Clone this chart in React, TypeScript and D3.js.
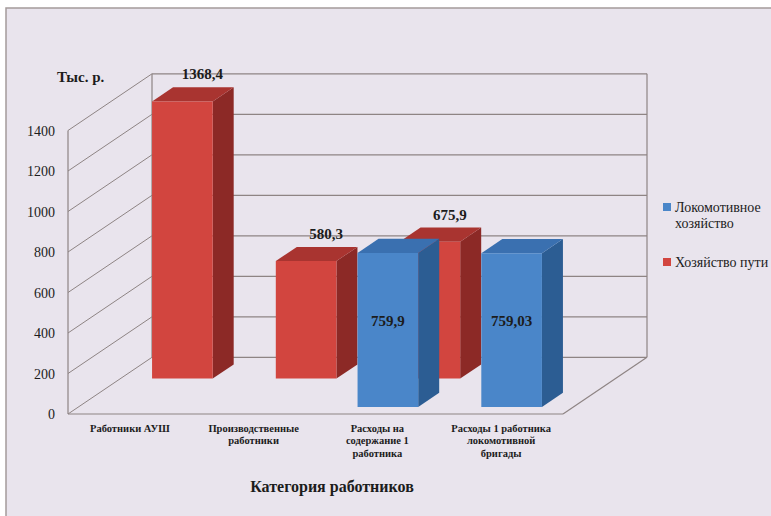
import React from "react";
import * as d3 from "d3";

const categories = [
  "Работники АУШ",
  "Производственные работники",
  "Расходы на содержание 1 работника",
  "Расходы 1 работника локомотивной бригады",
];
const categoryLines = [
  ["Работники АУШ"],
  ["Производственные", "работники"],
  ["Расходы на", "содержание 1", "работника"],
  ["Расходы 1 работника", "локомотивной", "бригады"],
];
const seriesNames = ["Локомотивное хозяйство", "Хозяйство пути"];
const locoValues: (number | null)[] = [null, null, 759.9, 759.03];
const trackValues: (number | null)[] = [1368.4, 580.3, 675.9, null];
const locoLabels = ["", "", "759,9", "759,03"];
const trackLabels = ["1368,4", "580,3", "675,9", ""];
const yTicks = [0, 200, 400, 600, 800, 1000, 1200, 1400];

const W = 771;
const H = 516;
const FRONT_L = 68;
const FRONT_R = 563;
const FLOOR_Y = 414;
const TOP_Y = 130.5;
const DX = 84;
const DY = -56.7;

const colors = [
  { front: "#4a86c9", top: "#3a70b0", side: "#2c5d93" },
  { front: "#d2453f", top: "#a93430", side: "#8c2926" },
];

const SERIF = "Liberation Serif";

export default function App() {
  const x = d3.scaleBand<string>().domain(categories).range([FRONT_L, FRONT_R]).paddingInner(0).paddingOuter(0);
  const y = d3.scaleLinear().domain([0, 1400]).range([FLOOR_Y, TOP_Y]);
  const depth = d3.scaleLinear().domain([0, 1]).range([0, 1]);
  const proj = (px: number, v: number, d: number): [number, number] => [px + depth(d) * DX, y(v) + depth(d) * DY];
  const line = d3.line();
  const poly = (pts: [number, number][]) => line([...pts, pts[0]]) as string;

  const bw = x.bandwidth();
  const barW = bw * 0.49;

  const rows = [
    { values: locoValues, labels: locoLabels, c: colors[0], d0: 0.125 },
    { values: trackValues, labels: trackLabels, c: colors[1], d0: 0.625 },
  ];
  const barDepth = 0.25;

  const gridColor = "#8e8484";
  const textColor = "#1c1c1c";

  const drawOrder = [1, 0];

  return (
    <svg width={W} height={H} fontFamily={SERIF} style={{ position: "absolute", left: 0, top: 0 }}>
      <rect x={0} y={0} width={W} height={H} fill="#ffffff" />
      <rect x={6} y={8} width={W + 10} height={H + 10} fill="#e9e4ed" stroke="#a49a9a" strokeWidth={1.5} />

      {yTicks.map((t) => {
        const a = proj(FRONT_L, t, 1);
        const b = proj(FRONT_R, t, 1);
        return <line key={"bg" + t} x1={a[0]} y1={a[1]} x2={b[0]} y2={b[1]} stroke={gridColor} strokeWidth={1.2} />;
      })}
      {yTicks.map((t) => {
        const a = proj(FRONT_L, t, 0);
        const b = proj(FRONT_L, t, 1);
        return <line key={"lg" + t} x1={a[0]} y1={a[1]} x2={b[0]} y2={b[1]} stroke={gridColor} strokeWidth={1} />;
      })}
      {(() => {
        const a0 = proj(FRONT_L, 0, 0), a1 = proj(FRONT_L, 1400, 0);
        const b0 = proj(FRONT_L, 0, 1), b1 = proj(FRONT_L, 1400, 1);
        const c0 = proj(FRONT_R, 0, 1), c1 = proj(FRONT_R, 1400, 1);
        const f0 = proj(FRONT_R, 0, 0);
        return (
          <g stroke={gridColor} strokeWidth={1.2}>
            <line x1={a0[0]} y1={a0[1]} x2={a1[0]} y2={a1[1]} />
            <line x1={b0[0]} y1={b0[1]} x2={b1[0]} y2={b1[1]} />
            <line x1={c0[0]} y1={c0[1]} x2={c1[0]} y2={c1[1]} />
            <line x1={a0[0]} y1={a0[1]} x2={f0[0]} y2={f0[1]} />
            <line x1={f0[0]} y1={f0[1]} x2={c0[0]} y2={c0[1]} />
          </g>
        );
      })()}

      {drawOrder.map((ri) => {
        const r = rows[ri];
        return (
          <g key={"row" + ri}>
            {categories.map((cat, i) => {
              const v = r.values[i];
              if (v == null) return null;
              const xl = (x(cat) as number) + (bw - barW) / 2;
              const xr = xl + barW;
              const d0 = r.d0, d1 = r.d0 + barDepth;
              const front: [number, number][] = [proj(xl, 0, d0), proj(xr, 0, d0), proj(xr, v, d0), proj(xl, v, d0)];
              const top: [number, number][] = [proj(xl, v, d0), proj(xr, v, d0), proj(xr, v, d1), proj(xl, v, d1)];
              const side: [number, number][] = [proj(xr, 0, d0), proj(xr, 0, d1), proj(xr, v, d1), proj(xr, v, d0)];
              return (
                <g key={cat}>
                  <path d={poly(side)} fill={r.c.side} />
                  <path d={poly(top)} fill={r.c.top} />
                  <path d={poly(front)} fill={r.c.front} />
                </g>
              );
            })}
          </g>
        );
      })}

      {rows.map((r, ri) =>
        categories.map((cat, i) => {
          const v = r.values[i];
          if (v == null) return null;
          const xc = (x(cat) as number) + bw / 2;
          const d0 = r.d0, d1 = r.d0 + barDepth;
          if (ri === 1) {
            const tb = proj(xc, v, d1);
            return (
              <text key={"lab" + ri + i} fontFamily={SERIF} x={tb[0] - 1} y={tb[1] - 8} textAnchor="middle" fontSize={15} fontWeight="bold" fill={textColor}>
                {r.labels[i]}
              </text>
            );
          }
          const fb = proj(xc, 0, d0);
          const tb = proj(xc, v, d1);
          return (
            <text key={"lab" + ri + i} fontFamily={SERIF} x={fb[0]} y={(fb[1] + tb[1]) / 2 + 3} textAnchor="middle" fontSize={15} fontWeight="bold" fill={textColor}>
              {r.labels[i]}
            </text>
          );
        })
      )}

      {yTicks.map((t) => (
        <text key={"yt" + t} fontFamily={SERIF} x={55} y={y(t) + 5} textAnchor="end" fontSize={14} fill={textColor}>
          {t}
        </text>
      ))}
      <text fontFamily={SERIF} x={57} y={82} fontSize={15} fontWeight="bold" fill={textColor}>Тыс. р.</text>

      {categories.map((cat, i) => (
        <text key={"cl" + i} fontFamily={SERIF} x={(x(cat) as number) + bw / 2} y={432} textAnchor="middle" fontSize={10.5} fontWeight="bold" fill={textColor}>
          {categoryLines[i].map((ln, j) => (
            <tspan key={j} x={(x(cat) as number) + bw / 2} dy={j === 0 ? 0 : 12.3}>{ln}</tspan>
          ))}
        </text>
      ))}
      <text fontFamily={SERIF} x={332} y={492} textAnchor="middle" fontSize={16} fontWeight="bold" fill={textColor}>Категория работников</text>

      <rect x={663} y={203} width={8} height={8} fill={colors[0].front} />
      <text fontFamily={SERIF} x={675} y={212} fontSize={14} fill={textColor}>
        <tspan x={675}>Локомотивное</tspan>
        <tspan x={675} dy={16}>хозяйство</tspan>
      </text>
      <rect x={663} y={258} width={8} height={8} fill={colors[1].front} />
      <text fontFamily={SERIF} x={675} y={267} fontSize={14} fill={textColor}>{seriesNames[1]}</text>
    </svg>
  );
}
